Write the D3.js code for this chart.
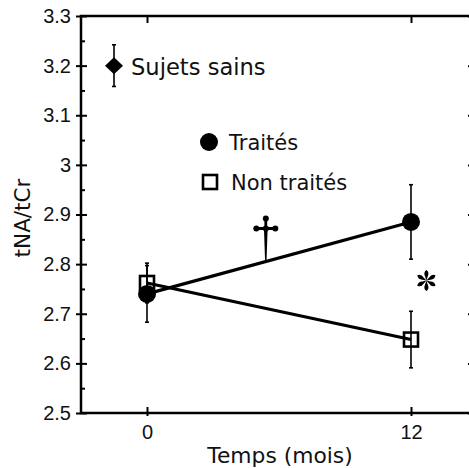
<!DOCTYPE html>
<html>
<head>
<meta charset="utf-8">
<script src="https://cdn.jsdelivr.net/npm/d3@7"></script>
<style>
	body { margin: 0; background: #fff; }
	svg { display: block; }
	.tick text { font-family: "Liberation Sans", Arial, sans-serif; font-size: 20px; fill: #111; }
	.lbl { font-family: "DejaVu Sans", Verdana, sans-serif; font-size: 21px; fill: #111; }
</style>
</head>
<body>
<svg id="chart" width="469" height="468"></svg>
<script>
// months on the x axis
const months = [0, 12];
const treatedMean = [2.74, 2.885];
const treatedErr = [0.057, 0.075];
const untreatedMean = [2.762, 2.648];
const untreatedErr = [0.04, 0.057];
// healthy reference group, drawn left of month 0
const healthyMonth = -1.5;
const healthyMean = 3.2;
const healthyErr = 0.042;

const yMajor = [2.5, 2.6, 2.7, 2.8, 2.9, 3, 3.1, 3.2, 3.3];
const yMinor = [2.55, 2.65, 2.75, 2.85, 2.95, 3.05, 3.15, 3.25];
const xTicks = [0, 12];
const daggerMonth = 5.4;

const svg = d3.select("#chart");
const x = d3.scaleLinear().domain([-3, 15]).range([81, 477]);
const y = d3.scaleLinear().domain([2.5, 3.3]).range([413, 16]);
const ink = "#000";

// axes -----------------------------------------------------------------
const leftAxis = svg.append("g").attr("transform", `translate(${x(-3)},0)`);
leftAxis.call(d3.axisLeft(y).tickValues(yMinor).tickSize(-4).tickFormat(""));
leftAxis.append("g").attr("class", "major").call(
	d3.axisLeft(y).tickValues(yMajor).tickSize(-6).tickPadding(10)
		.tickFormat(d => d3.format("")(+d.toFixed(1)))
);
leftAxis.selectAll(".major .tick line").attr("x1", -5);

const rightAxis = svg.append("g").attr("transform", `translate(${x(15)},0)`);
rightAxis.call(d3.axisRight(y).tickValues(yMajor).tickSize(-9).tickFormat(""));

const bottomAxis = svg.append("g").attr("transform", `translate(0,${y(2.5)})`);
bottomAxis.call(d3.axisBottom(x).tickValues(xTicks).tickSize(-6).tickPadding(12).tickFormat(d3.format("d")));
bottomAxis.selectAll(".tick line").attr("y1", 3);

const topAxis = svg.append("g").attr("transform", `translate(0,${y(3.3)})`);
topAxis.call(d3.axisTop(x).tickValues(xTicks).tickSize(-7).tickFormat(""));

svg.selectAll(".domain").remove();
svg.selectAll(".tick line").attr("stroke", ink).attr("stroke-width", 2);

svg.append("rect")
	.attr("x", x(-3)).attr("y", y(3.3))
	.attr("width", x(15) - x(-3)).attr("height", y(2.5) - y(3.3))
	.attr("fill", "none").attr("stroke", ink).attr("stroke-width", 2.5);

svg.append("text").attr("class", "lbl")
	.attr("x", 280).attr("y", 463)
	.attr("text-anchor", "middle").style("font-size", "21.8px")
	.text("Temps (mois)");
svg.append("text").attr("class", "lbl")
	.attr("transform", "translate(30,218) rotate(-90)")
	.attr("text-anchor", "middle").style("font-size", "21.5px")
	.text("tNA/tCr");

// series ---------------------------------------------------------------
const treated = months.map((m, i) => ({m, v: treatedMean[i], e: treatedErr[i]}));
const untreated = months.map((m, i) => ({m, v: untreatedMean[i], e: untreatedErr[i]}));
const line = d3.line().x(d => x(d.m)).y(d => y(d.v));

function errorBars(data) {
	const g = svg.append("g").attr("stroke", ink).attr("stroke-width", 1.6);
	data.forEach(d => {
		g.append("line").attr("x1", x(d.m)).attr("x2", x(d.m))
			.attr("y1", y(d.v - d.e)).attr("y2", y(d.v + d.e));
		[d.v - d.e, d.v + d.e].forEach(v => g.append("line")
			.attr("x1", x(d.m) - 2).attr("x2", x(d.m) + 2)
			.attr("y1", y(v)).attr("y2", y(v)));
	});
}

errorBars(treated);
errorBars(untreated);
errorBars([{m: healthyMonth, v: healthyMean, e: healthyErr}]);

[treated, untreated].forEach(s => svg.append("path")
	.attr("d", line(s)).attr("fill", "none")
	.attr("stroke", ink).attr("stroke-width", 3.2));

svg.append("g").selectAll("rect").data(untreated).join("rect")
	.attr("x", d => x(d.m) - 7).attr("y", d => y(d.v) - 7)
	.attr("width", 14).attr("height", 14)
	.attr("fill", "none").attr("stroke", ink).attr("stroke-width", 2.6);
svg.append("g").selectAll("circle").data(treated).join("circle")
	.attr("cx", d => x(d.m)).attr("cy", d => y(d.v)).attr("r", 9)
	.attr("fill", ink);

svg.append("path")
	.attr("transform", `translate(${x(healthyMonth)},${y(healthyMean)})`)
	.attr("d", "M0,-8.5L9,0L0,8.5L-9,0Z").attr("fill", ink);

// legend ---------------------------------------------------------------
svg.append("text").attr("class", "lbl").attr("x", 131).attr("y", 75)
	.style("font-size", "22.6px").text("Sujets sains");
svg.append("circle").attr("cx", 209).attr("cy", 142).attr("r", 9).attr("fill", ink);
svg.append("text").attr("class", "lbl").attr("x", 229).attr("y", 150).text("Traités");
svg.append("rect").attr("x", 203).attr("y", 175).attr("width", 14).attr("height", 14)
	.attr("fill", "none").attr("stroke", ink).attr("stroke-width", 2.6);
svg.append("text").attr("class", "lbl").attr("x", 231).attr("y", 190).text("Non traités");

// significance marks ---------------------------------------------------
const daggerBase = y(treatedMean[0] + (treatedMean[1] - treatedMean[0]) * daggerMonth / 12);
const dagger = svg.append("g").attr("transform", `translate(${x(daggerMonth)},${daggerBase})`).attr("fill", ink);
dagger.append("path").attr("d", "M-1.8,-32L1.8,-32L0.7,0L-0.7,0Z");
dagger.append("path").attr("d", "M-1.4,-44L1.4,-44L1.4,-30L-1.4,-30Z");
dagger.append("path").attr("d", "M-9,-34.5L9,-34.5L9,-31.5L-9,-31.5Z");
[[0, -43], [-9.5, -33], [9.5, -33], [0, -33]].forEach(([cx, cy]) =>
	dagger.append("circle").attr("cx", cx).attr("cy", cy).attr("r", 3));

const star = svg.append("g").attr("transform", `translate(${x(12.7)},${y(2.767)})`).attr("fill", ink);
d3.range(6).forEach(i => star.append("path")
	.attr("transform", `rotate(${i * 60})`)
	.attr("d", "M0,0L-1.3,-4Q-3.4,-8 0,-10.5Q3.4,-8 1.3,-4Z"));
</script>
</body>
</html>
